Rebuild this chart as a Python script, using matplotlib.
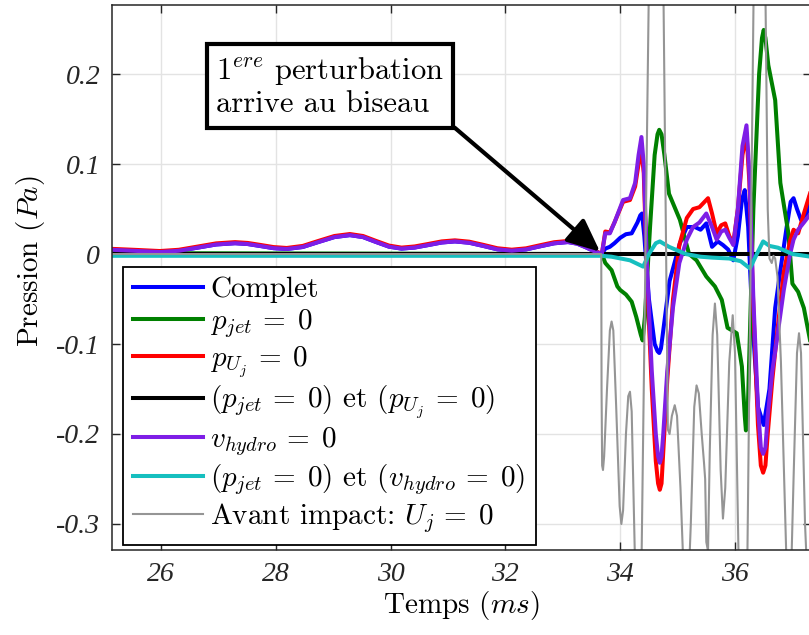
import matplotlib
matplotlib.use("Agg")
import matplotlib.pyplot as plt

plt.rcParams['font.family'] = ['cmr10', 'DejaVu Serif']
plt.rcParams['mathtext.fontset'] = 'cm'
plt.rcParams['axes.unicode_minus'] = False

# ---------------- data ----------------
t_pre = [25.15, 25.55, 25.98, 26.31, 26.64, 26.96, 27.29, 27.51, 27.74, 27.96, 28.19,
         28.47, 28.74, 29.02, 29.29, 29.52, 29.74, 29.97, 30.19, 30.42, 30.66, 30.89,
         31.12, 31.37, 31.62, 31.86, 32.11, 32.36, 32.60, 32.85, 33.09, 33.25, 33.40,
         33.55, 33.68]
p_pre = [0.0047, 0.0035, 0.0022, 0.0036, 0.0071, 0.0106, 0.0120, 0.0111, 0.0088, 0.0065,
         0.0056, 0.0078, 0.0133, 0.0188, 0.0210, 0.0188, 0.0135, 0.0082, 0.0060, 0.0072,
         0.0100, 0.0128, 0.0140, 0.0125, 0.0089, 0.0052, 0.0037, 0.0051, 0.0085, 0.0119,
         0.0133, 0.0115, 0.0075, 0.0030, 0.0]
p_pre_red = [0.0057, 0.0046, 0.0033, 0.0047, 0.0083, 0.0118, 0.0132, 0.0123, 0.0100, 0.0077,
             0.0067, 0.0090, 0.0145, 0.0200, 0.0222, 0.0200, 0.0147, 0.0094, 0.0071, 0.0084,
             0.0112, 0.0140, 0.0152, 0.0137, 0.0101, 0.0064, 0.0048, 0.0063, 0.0097, 0.0131,
             0.0145, 0.0127, 0.0087, 0.0040, 0.0]

t_complet = [33.74, 33.82, 33.9, 34.0, 34.1, 34.2, 34.3, 34.35, 34.38, 34.42, 34.5, 34.6,
             34.65, 34.68, 34.71, 34.76, 34.86, 35.04, 35.16, 35.3, 35.4, 35.5, 35.6, 35.7,
             35.79, 35.88, 35.97, 36.05, 36.12, 36.17, 36.23, 36.3, 36.4, 36.5, 36.6, 36.7,
             36.8, 36.9, 36.97, 37.02, 37.08, 37.15, 37.25, 37.32]
p_complet = [0.006, 0.008, 0.012, 0.018, 0.022, 0.023, 0.035, 0.043, 0.045, 0.020, -0.05,
             -0.10, -0.108, -0.11, -0.105, -0.08, -0.03, 0.012, 0.030, 0.030, 0.027, 0.034,
             0.008, 0.014, 0.010, 0.005, -0.007, 0.020, 0.060, 0.071, 0.030, -0.07, -0.17,
             -0.19, -0.15, -0.06, -0.014, 0.030, 0.058, 0.062, 0.050, 0.038, 0.045, 0.070]

t_pjet = [25.15, 33.68, 33.74, 33.85, 33.95, 34.0, 34.1, 34.2, 34.28, 34.36, 34.39, 34.43,
          34.52, 34.6, 34.65, 34.68, 34.72, 34.77, 34.85, 35.04, 35.2, 35.33, 35.5, 35.65,
          35.77, 35.87, 36.03, 36.12, 36.17, 36.19, 36.22, 36.32, 36.42, 36.47, 36.5, 36.53,
          36.58, 36.7, 36.79, 36.93, 37.0, 37.1, 37.2, 37.32]
p_pjet = [0.001, 0.0, -0.010, -0.018, -0.036, -0.040, -0.045, -0.053, -0.070, -0.090, -0.096,
          -0.07, 0.03, 0.11, 0.133, 0.138, 0.133, 0.11, 0.067, 0.038, 0.0, -0.007, -0.025,
          -0.036, -0.051, -0.082, -0.088, -0.125, -0.18, -0.196, -0.18, 0.05, 0.20, 0.24,
          0.249, 0.24, 0.21, 0.171, 0.079, 0.023, -0.033, -0.042, -0.060, -0.100]

t_puj = [33.74, 33.82, 33.9, 34.05, 34.17, 34.26, 34.32, 34.37, 34.41, 34.47, 34.55,
         34.62, 34.66, 34.69, 34.72, 34.75, 34.82, 34.92, 35.03, 35.16, 35.27, 35.38, 35.53,
         35.6, 35.68, 35.76, 35.83, 35.9, 35.97, 36.05, 36.13, 36.2, 36.25, 36.32, 36.4,
         36.45, 36.49, 36.53, 36.57, 36.65, 36.73, 36.85, 36.96, 37.02, 37.1, 37.2, 37.32]
p_puj = [0.025, 0.024, 0.035, 0.058, 0.060, 0.075, 0.100, 0.115, 0.090, -0.03, -0.15,
         -0.23, -0.255, -0.262, -0.255, -0.22, -0.14, -0.05, 0.01, 0.04, 0.05, 0.052, 0.062,
         0.045, 0.023, 0.032, 0.034, 0.020, 0.012, 0.05, 0.11, 0.134, 0.08, -0.06, -0.19,
         -0.235, -0.243, -0.235, -0.20, -0.14, -0.09, -0.02, 0.015, 0.027, 0.023, 0.045, 0.070]

t_both = [25.15, 37.32]
p_both = [0.0, 0.0]

t_vh = [33.74, 33.82, 33.9, 34.05, 34.17, 34.26, 34.32, 34.37, 34.41, 34.47, 34.55,
        34.62, 34.66, 34.69, 34.72, 34.75, 34.82, 34.92, 35.03, 35.16, 35.27, 35.38, 35.5,
        35.6, 35.68, 35.76, 35.83, 35.9, 35.97, 36.05, 36.13, 36.2, 36.25, 36.32, 36.4,
        36.45, 36.49, 36.53, 36.57, 36.65, 36.73, 36.85, 36.96, 37.02, 37.1, 37.2, 37.32]
p_vh = [0.023, 0.023, 0.035, 0.060, 0.062, 0.079, 0.110, 0.130, 0.100, -0.02, -0.13,
        -0.20, -0.225, -0.232, -0.225, -0.20, -0.13, -0.059, -0.01, 0.016, 0.030, 0.035, 0.045,
        0.030, 0.016, 0.025, 0.027, 0.018, 0.010, 0.05, 0.12, 0.143, 0.09, -0.05, -0.17,
        -0.215, -0.222, -0.215, -0.18, -0.13, -0.095, -0.04, 0.0, 0.016, 0.027, 0.035, 0.045]

t_cyan = [25.15, 33.68, 33.85, 34.17, 34.4, 34.5, 34.62, 34.69, 34.85, 35.14, 35.4,
          35.6, 35.9, 36.1, 36.26, 36.38, 36.49, 36.6, 36.75, 37.0, 37.32]
p_cyan = [-0.002, -0.002, -0.003, -0.007, -0.014, 0.0, 0.012, 0.014, 0.008, 0.0, -0.003,
          -0.004, -0.005, -0.008, -0.016, 0.0, 0.014, 0.009, 0.007, 0.0, -0.003]

t_gray = [25.15, 33.67, 33.675, 33.685, 33.70, 33.72, 33.77, 33.82, 33.85, 33.88, 33.93,
          33.99, 34.02, 34.05, 34.10, 34.14, 34.17, 34.20, 34.25, 34.33, 34.64, 34.80,
          34.83, 34.86, 34.90, 34.95, 34.99, 35.05, 35.12, 35.17, 35.23, 35.29, 35.33,
          35.37, 35.42, 35.46, 35.48, 35.50, 35.53, 35.56, 35.61, 35.65, 35.69, 35.75,
          35.79, 35.83, 35.90, 35.96, 36.00, 36.06, 36.17, 36.43, 36.57, 36.60, 36.64,
          36.67, 36.70, 36.74, 36.80, 36.90, 36.96, 37.02, 37.08, 37.115, 37.15, 37.22, 37.32]
p_gray = [0.0, 0.0, -0.15, -0.235, -0.24, -0.225, -0.15, -0.085, -0.075, -0.085, -0.17,
          -0.28, -0.30, -0.285, -0.20, -0.158, -0.153, -0.175, -0.32, -0.55, 1.0, 0.0,
          -0.195, -0.20, -0.18, -0.168, -0.18, -0.26, -0.38, -0.40, -0.30, -0.17, -0.146,
          -0.155, -0.20, -0.232, -0.25, -0.32, -0.33, -0.22, -0.09, -0.055, -0.09, -0.24,
          -0.294, -0.26, -0.12, -0.068, -0.11, -0.33, -0.60, 0.90, 0.05, -0.005, -0.01,
          -0.002, -0.005, -0.025, -0.12, -0.35, -0.40, -0.25, -0.11, -0.088, -0.11, -0.30, -0.45]

labels = ['Complet',
          r'$p_{jet}\,=\;0$',
          r'$p_{U_j}\,=\;0$',
          r'$(p_{jet}\,=\;0)$ et $(p_{U_j}\,=\;0)$',
          r'$v_{hydro}\,=\;0$',
          r'$(p_{jet}\,=\;0)$ et $(v_{hydro}\,=\;0)$',
          r'Avant impact: $U_j\,=\;0$']
xticks = [26, 28, 30, 32, 34, 36]
xticklabels = ['26', '28', '30', '32', '34', '36']
yticks = [-0.3, -0.2, -0.1, 0.0, 0.1, 0.2]
yticklabels = ['-0.3', '-0.2', '-0.1', '0', '0.1', '0.2']

# ---------------- figure ----------------
fig = plt.figure(figsize=(8.09, 6.35), dpi=100)
ax = fig.add_axes([112/809, 85/635, 699/809, 545/635])

lw = 2.9
ax.plot(t_pre + t_complet, p_pre + p_complet, color='#0000ff', lw=lw, label=labels[0])
ax.plot(t_pjet, p_pjet, color='#008000', lw=lw, label=labels[1])
ax.plot(t_pre + t_puj, p_pre_red + p_puj, color='#ff0000', lw=lw, label=labels[2])
ax.plot(t_both, p_both, color='#000000', lw=lw, label=labels[3])
ax.plot(t_pre + t_vh, p_pre + p_vh, color='#7e1ee6', lw=lw, label=labels[4])
ax.plot(t_cyan, p_cyan, color='#16bfbf', lw=lw, label=labels[5])
ax.plot(t_gray, p_gray, color='#959595', lw=1.5, label=labels[6])

ax.set_xlim(25.146, 37.324)
ax.set_ylim(-0.3289, 0.2767)

ax.set_xticks(xticks)
ax.set_xticklabels(xticklabels, family='Liberation Serif', style='italic', fontsize=20, color='#262626')
ax.set_yticks(yticks)
ax.set_yticklabels(yticklabels, family='Liberation Serif', style='italic', fontsize=20, color='#262626')
ax.tick_params(direction='in', length=6, width=1, top=True, right=True, colors='#262626', pad=8.5)
for s in ax.spines.values():
    s.set_color('#262626')
    s.set_linewidth(1.1)
ax.grid(True, color='#e3e3e3', lw=1.0)
ax.set_axisbelow(True)

ax.set_xlabel(r'Temps $(ms)$', fontsize=21, va='center')
ax.xaxis.set_label_coords(0.5, -0.101)
ax.set_ylabel(r'Pression $(Pa)$', fontsize=21, va='center')
ax.yaxis.set_label_coords(-0.117, 0.53)

leg = ax.legend(loc='lower left', bbox_to_anchor=(0.0157, 0.009), borderaxespad=0,
                fontsize=21, frameon=True, fancybox=False, handlelength=2.4,
                handletextpad=0.25, labelspacing=0.14, borderpad=0.35)
leg.get_frame().set_edgecolor('black')
leg.get_frame().set_linewidth(1.3)
leg.get_frame().set_alpha(1)

ax.annotate('1$^{ere}$ perturbation\narrive au biseau',
            xy=(33.648, 0.0026), xycoords='data',
            xytext=(28.944, 0.186), textcoords='data',
            ha='center', va='center', multialignment='left', fontsize=22,
            bbox=dict(boxstyle='square,pad=0.3', fc='white', ec='black', lw=3),
            arrowprops=dict(arrowstyle='-|>,head_length=1.0,head_width=0.45', color='black',
                            lw=3, relpos=(1, 0), shrinkA=0, shrinkB=0, mutation_scale=20))

fig.savefig('out.png', dpi=100)
